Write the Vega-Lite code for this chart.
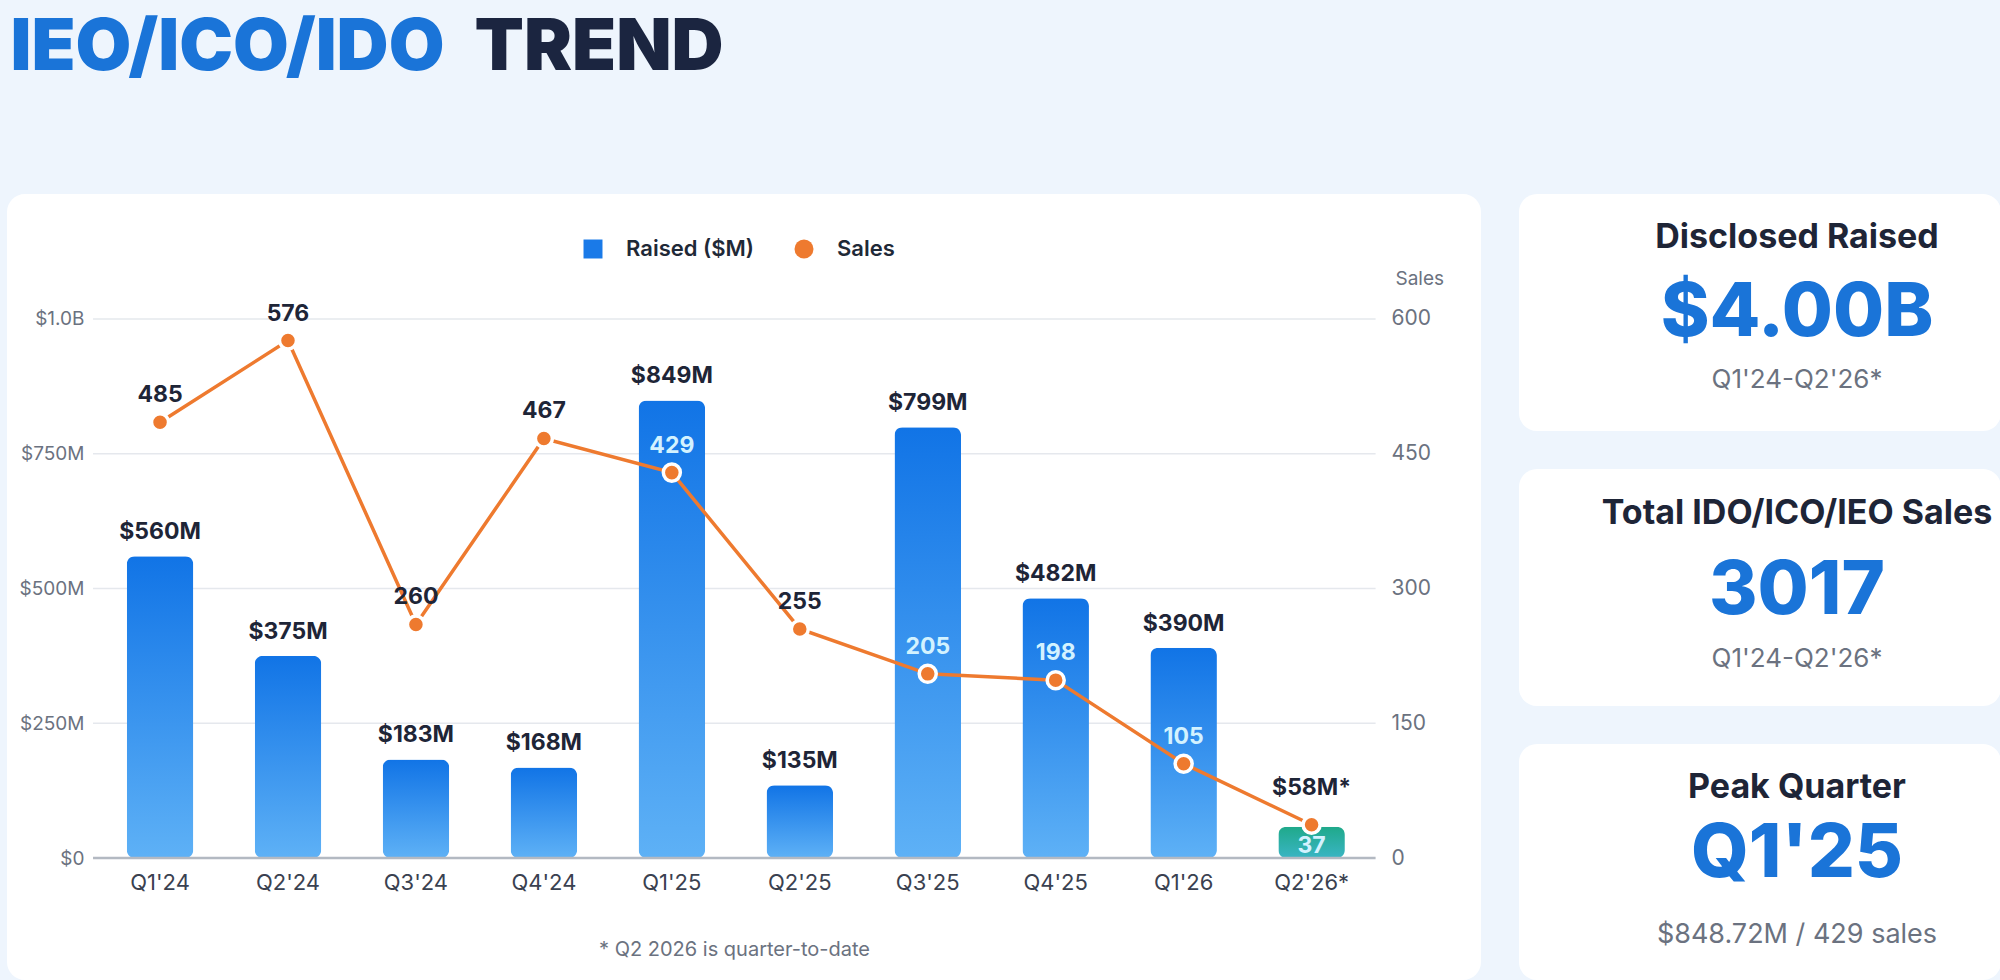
{
  "$schema": "https://vega.github.io/schema/vega-lite/v6.json",
  "background": "#eef5fd",
  "padding": {"left": 6, "top": 11, "right": 0, "bottom": 0},
  "config": {
    "font": "Inter",
    "view": {"stroke": null},
    "concat": {"spacing": 38},
    "title": {"font": "Inter", "fontSize": 72, "fontWeight": 900, "anchor": "start", "offset": 0, "limit": 0}
  },
  "datasets": {
    "quarters": [
      {"quarter": "Q1'24", "raised": 560, "sales": 485},
      {"quarter": "Q2'24", "raised": 375, "sales": 576},
      {"quarter": "Q3'24", "raised": 183, "sales": 260},
      {"quarter": "Q4'24", "raised": 168, "sales": 467},
      {"quarter": "Q1'25", "raised": 849, "sales": 429},
      {"quarter": "Q2'25", "raised": 135, "sales": 255},
      {"quarter": "Q3'25", "raised": 799, "sales": 205},
      {"quarter": "Q4'25", "raised": 482, "sales": 198},
      {"quarter": "Q1'26", "raised": 390, "sales": 105},
      {"quarter": "Q2'26*", "raised": 58, "sales": 37}
    ],
    "gridlines": [
      {"level": 0},
      {"level": 250},
      {"level": 500},
      {"level": 750},
      {"level": 1000}
    ]
  },
  "spacing": 104,
  "resolve": {"legend": {"color": "independent", "shape": "independent"}},
  "vconcat": [
    {
      "spacing": 0,
      "bounds": "flush",
      "hconcat": [
        {
          "width": 468,
          "height": 1,
          "title": {"text": "IEO/ICO/IDO", "color": "#1a74d8", "dx": 4},
          "data": {"values": [{}]},
          "mark": {"type": "rule", "opacity": 0},
          "encoding": {}
        },
        {
          "width": 300,
          "height": 1,
          "title": {"text": "TREND", "color": "#1b2540"},
          "data": {"values": [{}]},
          "mark": {"type": "rule", "opacity": 0},
          "encoding": {}
        }
      ]
    },
    {
      "spacing": 38,
      "resolve": {"legend": {"color": "independent", "shape": "independent"}},
      "hconcat": [
        {
          "width": 1474,
          "height": 786,
          "view": {"fill": "#ffffff", "cornerRadius": 18, "stroke": null},
          "data": {"name": "quarters"},
          "transform": [
            {"calculate": "'$' + datum.raised + 'M' + (indexof(datum.quarter, '*') >= 0 ? '*' : '')", "as": "raised_label"},
            {"calculate": "indexof(datum.quarter, '*') >= 0", "as": "partial"}
          ],
          "layer": [
            {
              "data": {"name": "gridlines"},
              "transform": [{"filter": "datum.level > 0"}],
              "mark": {"type": "rule", "color": "#e5e8ed", "strokeWidth": 1.5, "xOffset": -67, "x2Offset": 64},
              "encoding": {
                "x": {"datum": "Q1'24", "type": "nominal"},
                "x2": {"datum": "Q2'26*"},
                "y": {"field": "level", "type": "quantitative", "scale": {"domain": [-226.3, 1231.9], "nice": false}, "axis": null}
              }
            },
            {
              "mark": {"type": "bar", "cornerRadius": 8},
              "encoding": {
                "x": {
                  "field": "quarter",
                  "type": "nominal",
                  "scale": {
                    "type": "band",
                    "domain": ["Q1'24", "Q2'24", "Q3'24", "Q4'24", "Q1'25", "Q2'25", "Q3'25", "Q4'25", "Q1'26", "Q2'26*"],
                    "paddingInner": 0.48,
                    "paddingOuter": 1.043,
                    "align": 0.468
                  },
                  "axis": {
                    "orient": "bottom",
                    "offset": -122,
                    "bandPosition": 0.5,
                    "domain": false,
                    "ticks": false,
                    "grid": false,
                    "labelAngle": 0,
                    "labelAlign": "center",
                    "labelPadding": 24,
                    "labelFontSize": 22,
                    "labelColor": "#3a4150",
                    "title": "* Q2 2026 is quarter-to-date",
                    "titleX": 727,
                    "titleAlign": "center",
                    "titlePadding": 46,
                    "titleFontSize": 20,
                    "titleFontWeight": "normal",
                    "titleColor": "#6b7280"
                  }
                },
                "y": {
                  "field": "raised",
                  "type": "quantitative",
                  "scale": {"domain": [-226.3, 1231.9], "nice": false},
                  "axis": {
                    "orient": "left",
                    "offset": -90,
                    "values": [0, 250, 500, 750, 1000],
                    "labelExpr": "datum.value == 0 ? '$0' : datum.value >= 1000 ? '$1.0B' : '$' + datum.value + 'M'",
                    "domain": false,
                    "ticks": false,
                    "grid": false,
                    "labelPadding": 13,
                    "labelFontSize": 19,
                    "labelColor": "#6b7280",
                    "title": null
                  }
                },
                "fill": {
                  "condition": {
                    "test": "datum.partial",
                    "value": {
                      "gradient": "linear", "x1": 0, "y1": 0, "x2": 0, "y2": 1,
                      "stops": [{"offset": 0, "color": "#1fa98a"}, {"offset": 1, "color": "#3ab5c4"}]
                    }
                  },
                  "value": {
                    "gradient": "linear", "x1": 0, "y1": 0, "x2": 0, "y2": 1,
                    "stops": [{"offset": 0, "color": "#1174e6"}, {"offset": 1, "color": "#5eb1f6"}]
                  }
                }
              }
            },
            {
              "data": {"name": "gridlines"},
              "transform": [{"filter": "datum.level == 0"}],
              "mark": {"type": "rule", "color": "#b3b9c2", "strokeWidth": 2.5, "xOffset": -67, "x2Offset": 64},
              "encoding": {
                "x": {"datum": "Q1'24", "type": "nominal"},
                "x2": {"datum": "Q2'26*"},
                "y": {"field": "level", "type": "quantitative", "scale": {"domain": [-226.3, 1231.9], "nice": false}, "axis": null}
              }
            },
            {
              "transform": [{"filter": "!datum.partial"}],
              "mark": {"type": "text", "baseline": "bottom", "dy": -12, "fontSize": 23, "fontWeight": 700, "color": "#1e2537"},
              "encoding": {
                "x": {"field": "quarter", "type": "nominal"},
                "y": {"field": "raised", "type": "quantitative", "scale": {"domain": [-226.3, 1231.9], "nice": false}, "axis": null},
                "text": {"field": "raised_label"}
              }
            },
            {
              "transform": [{"filter": "datum.partial"}],
              "mark": {"type": "text", "baseline": "bottom", "dy": -27, "fontSize": 23, "fontWeight": 700, "color": "#1e2537"},
              "encoding": {
                "x": {"field": "quarter", "type": "nominal"},
                "y": {"field": "raised", "type": "quantitative", "scale": {"domain": [-226.3, 1231.9], "nice": false}, "axis": null},
                "text": {"field": "raised_label"}
              }
            },
            {
              "mark": {"type": "line", "color": "#ee7a2f", "strokeWidth": 3.5},
              "encoding": {
                "x": {"field": "quarter", "type": "nominal"},
                "y": {
                  "field": "sales",
                  "type": "quantitative",
                  "scale": {"domain": [-135.78, 739.14], "nice": false},
                  "axis": {
                    "orient": "right",
                    "offset": -109,
                    "values": [0, 150, 300, 450, 600],
                    "domain": false,
                    "ticks": false,
                    "grid": false,
                    "labelPadding": 19,
                    "labelAlign": "left",
                    "labelFontSize": 21,
                    "labelColor": "#6b7280",
                    "title": "Sales",
                    "titleAngle": 0,
                    "titleAlign": "left",
                    "titleBaseline": "middle",
                    "titleX": 23,
                    "titleY": 84,
                    "titleFontSize": 19,
                    "titleFontWeight": "normal",
                    "titleColor": "#6b7280"
                  }
                }
              }
            },
            {
              "mark": {"type": "point", "filled": true, "opacity": 1, "size": 290, "stroke": "#ffffff", "strokeWidth": 3.5},
              "encoding": {
                "x": {"field": "quarter", "type": "nominal"},
                "y": {"field": "sales", "type": "quantitative", "scale": {"domain": [-135.78, 739.14], "nice": false}, "axis": null},
                "color": {
                  "datum": "Sales",
                  "type": "nominal",
                  "scale": {"domain": ["Raised ($M)", "Sales"], "range": ["#1a7ae8", "#ee7a2f"]},
                  "legend": {
                    "orient": "none", "legendX": 575, "legendY": 44, "direction": "horizontal", "title": null,
                    "labelFontSize": 22, "labelFontWeight": 600, "labelColor": "#1f2937",
                    "symbolSize": 360, "labelOffset": 22, "columnPadding": 38, "symbolStrokeWidth": 0
                  }
                },
                "shape": {
                  "datum": "Sales",
                  "type": "nominal",
                  "scale": {"domain": ["Raised ($M)", "Sales"], "range": ["square", "circle"]},
                  "legend": {
                    "orient": "none", "legendX": 575, "legendY": 44, "direction": "horizontal", "title": null,
                    "labelFontSize": 22, "labelFontWeight": 600, "labelColor": "#1f2937",
                    "symbolSize": 360, "labelOffset": 22, "columnPadding": 38, "symbolStrokeWidth": 0
                  }
                }
              }
            },
            {
              "transform": [{"filter": "!datum.partial"}],
              "mark": {"type": "text", "baseline": "bottom", "dy": -15, "fontSize": 23, "fontWeight": 700},
              "encoding": {
                "x": {"field": "quarter", "type": "nominal"},
                "y": {"field": "sales", "type": "quantitative", "scale": {"domain": [-135.78, 739.14], "nice": false}, "axis": null},
                "text": {"field": "sales"},
                "color": {"condition": {"test": "datum.sales / 600 < datum.raised / 1000", "value": "#d3f2ff"}, "value": "#1e2537"}
              }
            },
            {
              "transform": [{"filter": "datum.partial"}],
              "mark": {"type": "text", "baseline": "top", "dy": 10, "fontSize": 23, "fontWeight": 700, "color": "#d3f2ff"},
              "encoding": {
                "x": {"field": "quarter", "type": "nominal"},
                "y": {"field": "sales", "type": "quantitative", "scale": {"domain": [-135.78, 739.14], "nice": false}, "axis": null},
                "text": {"field": "sales"}
              }
            }
          ],
          "resolve": {"scale": {"y": "independent"}, "axis": {"y": "independent"}}
        },
        {
          "spacing": 38,
          "vconcat": [
            {
              "width": 482,
              "height": 237,
              "view": {"fill": "#ffffff", "cornerRadius": 18, "stroke": null},
              "data": {"values": [
                {"role": "title", "text": "Disclosed Raised"},
                {"role": "value", "text": "$4.00B"},
                {"role": "note", "text": "Q1'24-Q2'26*"}
              ]},
              "layer": [
                {"transform": [{"filter": "datum.role == 'title'"}], "mark": {"type": "text", "fontSize": 34, "fontWeight": 700, "color": "#1e2537", "dx": 37, "dy": -75}, "encoding": {"text": {"field": "text"}}},
                {"transform": [{"filter": "datum.role == 'value'"}], "mark": {"type": "text", "fontSize": 74, "fontWeight": 800, "color": "#1a74d8", "dx": 37, "dy": 1}, "encoding": {"text": {"field": "text"}}},
                {"transform": [{"filter": "datum.role == 'note'"}], "mark": {"type": "text", "fontSize": 26, "color": "#6b7280", "dx": 37, "dy": 67}, "encoding": {"text": {"field": "text"}}}
              ]
            },
            {
              "width": 482,
              "height": 237,
              "view": {"fill": "#ffffff", "cornerRadius": 18, "stroke": null},
              "data": {"values": [
                {"role": "title", "text": "Total IDO/ICO/IEO Sales"},
                {"role": "value", "text": "3017"},
                {"role": "note", "text": "Q1'24-Q2'26*"}
              ]},
              "layer": [
                {"transform": [{"filter": "datum.role == 'title'"}], "mark": {"type": "text", "fontSize": 34, "fontWeight": 700, "color": "#1e2537", "dx": 37, "dy": -74}, "encoding": {"text": {"field": "text"}}},
                {"transform": [{"filter": "datum.role == 'value'"}], "mark": {"type": "text", "fontSize": 74, "fontWeight": 800, "color": "#1a74d8", "dx": 37, "dy": 4}, "encoding": {"text": {"field": "text"}}},
                {"transform": [{"filter": "datum.role == 'note'"}], "mark": {"type": "text", "fontSize": 26, "color": "#6b7280", "dx": 37, "dy": 71}, "encoding": {"text": {"field": "text"}}}
              ]
            },
            {
              "width": 482,
              "height": 236,
              "view": {"fill": "#ffffff", "cornerRadius": 18, "stroke": null},
              "data": {"values": [
                {"role": "title", "text": "Peak Quarter"},
                {"role": "value", "text": "Q1'25"},
                {"role": "note", "text": "$848.72M / 429 sales"}
              ]},
              "layer": [
                {"transform": [{"filter": "datum.role == 'title'"}], "mark": {"type": "text", "fontSize": 34, "fontWeight": 700, "color": "#1e2537", "dx": 37, "dy": -74}, "encoding": {"text": {"field": "text"}}},
                {"transform": [{"filter": "datum.role == 'value'"}], "mark": {"type": "text", "fontSize": 74, "fontWeight": 800, "color": "#1a74d8", "dx": 37, "dy": -7}, "encoding": {"text": {"field": "text"}}},
                {"transform": [{"filter": "datum.role == 'note'"}], "mark": {"type": "text", "fontSize": 27, "color": "#6b7280", "dx": 37, "dy": 73}, "encoding": {"text": {"field": "text"}}}
              ]
            }
          ]
        }
      ]
    }
  ]
}
